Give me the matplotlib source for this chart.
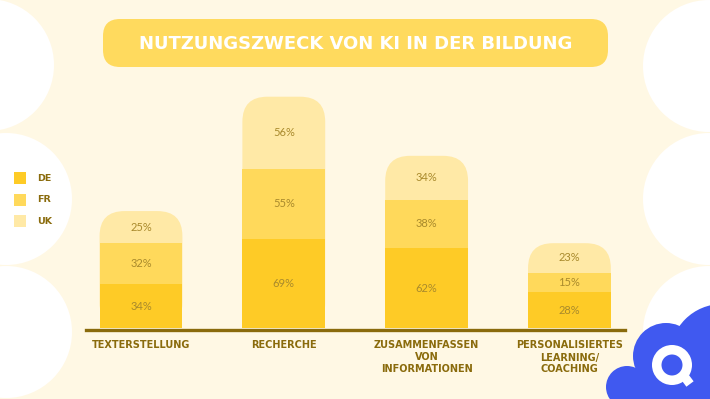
import matplotlib
matplotlib.use("Agg")
import matplotlib.pyplot as plt
from matplotlib.patches import Circle, FancyBboxPatch, Rectangle, Wedge
import numpy as np

# data
categories = ["TEXTERSTELLUNG", "RECHERCHE", "ZUSAMMENFASSEN\nVON\nINFORMATIONEN",
              "PERSONALISIERTES\nLEARNING/\nCOACHING"]
series = ["DE", "FR", "UK"]
de = [34, 69, 62, 28]
fr = [32, 55, 38, 15]
uk = [25, 56, 34, 23]

title = "NUTZUNGSZWECK VON KI IN DER BILDUNG"

# colours
bg_col = "#FFF8E4"
col_de = "#FECB26"
col_fr = "#FFD95B"
col_uk = "#FFE9A6"
olive = "#8A6B0C"
pct_col = "#A98A2C"
blue = "#4059F0"

W, H = 710, 399
fig = plt.figure(figsize=(W / 100, H / 100), dpi=100)
fig.patch.set_facecolor(bg_col)

# background decoration in pixel coordinates
bg = fig.add_axes([0, 0, 1, 1], zorder=0)
bg.set_xlim(0, W)
bg.set_ylim(H, 0)
bg.axis("off")

for cx, cy in [(-12, 65), (6, 199), (6, 332), (709, 66), (709, 199), (709, 332)]:
    bg.add_patch(Circle((cx, cy), 66, color="white", lw=0))

# blue cloud logo
for cx, cy, r in [(722, 356, 52), (666, 356, 33), (627, 387, 21)]:
    bg.add_patch(Circle((cx, cy), r, color=blue, lw=0))
bg.add_patch(Rectangle((638, 372), 72, 27, color=blue, lw=0))
bg.add_patch(Wedge((672, 365), 20, 0, 360, width=9.5, color="white", lw=0))
bg.plot([681, 690], [372, 384], color="white", lw=6.5, solid_capstyle="butt")

# title box
bg.add_patch(FancyBboxPatch((103, 19), 505, 48, boxstyle="round,pad=0,rounding_size=17",
                            color="#FFDA5E", lw=0))
bg.text(355.5, 44, title, color="white", fontsize=13, fontweight="bold",
        ha="center", va="center", family="DejaVu Sans")

# legend
for i, (name, c) in enumerate(zip(series, [col_de, col_fr, col_uk])):
    y = 172 + i * 21.5
    bg.add_patch(Rectangle((14, y), 12, 12, color=c, lw=0))
    bg.text(37, y + 6.5, name, color=olive, fontsize=6.8, fontweight="bold",
            ha="left", va="center", family="DejaVu Sans")

# chart axes: 1.285 px per percent, 142.8 px per category
ax = fig.add_axes([86 / W, 71 / H, 539 / W, 248 / H], zorder=1)
ax.patch.set_alpha(0)
ax.set_xlim(-0.385, 3.389)
ax.set_ylim(0, 248 / 1.285)
for s in ax.spines.values():
    s.set_visible(False)
ax.set_yticks([])

x = np.arange(len(categories))
width = 0.58
px_x = 142.8
px_y = 1.285
radius_px = 25

de = np.array(de)
fr = np.array(fr)
uk = np.array(uk)
total = de + fr + uk

# top segment as a rounded box; lower segments drawn over its bottom corners
for xi, t in zip(x, total):
    ax.add_patch(FancyBboxPatch((xi - width / 2, 0), width, t,
                                boxstyle="round,pad=0,rounding_size=%f" % (radius_px / px_x),
                                mutation_aspect=px_x / px_y, color=col_uk, lw=0))
ax.bar(x, de + fr, width, color=col_fr, lw=0)
ax.bar(x, de, width, color=col_de, lw=0)

ax.axhline(-1.3, color=olive, lw=2.4, clip_on=False)

for xi, a, b, c in zip(x, de, fr, uk):
    for bottom, v in [(0, a), (a, b), (a + b, c)]:
        ax.text(xi, bottom + v / 2, "%d%%" % v, color=pct_col, fontsize=8,
                ha="center", va="center", family=["Lato", "DejaVu Sans"])

ax.set_xticks(x)
ax.set_xticklabels(categories, color=olive, fontsize=7, fontweight="bold",
                   family="DejaVu Sans", linespacing=1.25)
ax.tick_params(axis="x", length=0, pad=9)

fig.savefig("out.png", dpi=100, facecolor=bg_col)
